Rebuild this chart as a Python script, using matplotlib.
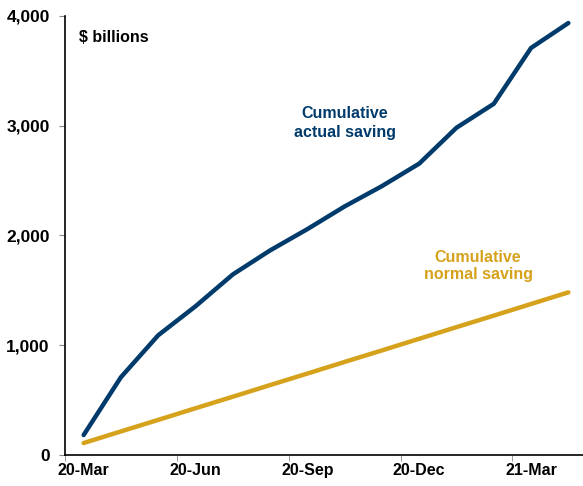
import matplotlib
matplotlib.use("Agg")
import matplotlib.pyplot as plt
from matplotlib.ticker import FuncFormatter, FixedLocator

months = ["20-Mar", "20-Apr", "20-May", "20-Jun", "20-Jul", "20-Aug", "20-Sep",
          "20-Oct", "20-Nov", "20-Dec", "21-Jan", "21-Feb", "21-Mar", "21-Apr"]
actual_saving = [182, 709, 1091, 1355, 1645, 1864, 2058, 2265, 2450, 2655,
                 2982, 3200, 3709, 3936]
normal_saving = [109, 215, 320, 426, 531, 637, 742, 848, 953, 1059,
                 1165, 1270, 1376, 1482]
tick_labels = ["20-Mar", "20-Jun", "20-Sep", "20-Dec", "21-Mar"]

BLUE = "#003B6B"
GOLD = "#D6A21C"

plt.rcParams['font.family'] = ['Liberation Sans', 'DejaVu Sans']

fig = plt.figure(figsize=(5.83, 4.86), dpi=100)
ax = fig.add_axes([65/583, 31/486, 522/583, 439/486])

x = list(range(len(months)))
ax.plot(x, normal_saving, color=GOLD, lw=3.2, solid_capstyle='round')
ax.plot(x, actual_saving, color=BLUE, lw=3.2, solid_capstyle='round')

ax.set_xlim(-0.5, len(months) - 0.5)
ax.set_ylim(0, 4000)

# ticks: labels centered on categories, tick marks at category boundaries
label_pos = [months.index(t) for t in tick_labels]
ax.set_xticks(label_pos)
ax.set_xticklabels(tick_labels, fontsize=11.5, fontweight='bold')
ax.tick_params(axis='x', length=0, pad=6)
ax.xaxis.set_minor_locator(FixedLocator([p - 0.5 for p in label_pos]))
ax.tick_params(axis='x', which='minor', length=4, direction='out', color='#888888')

ax.set_yticks([0, 1000, 2000, 3000, 4000])
ax.yaxis.set_major_formatter(FuncFormatter(lambda v, p: f"{int(v):,}"))
for lab in ax.get_yticklabels():
    lab.set_fontweight('bold')
    lab.set_fontsize(12.5)
ax.tick_params(axis='y', length=4, direction='out', color='#888888', pad=7)

for s in ['top', 'right']:
    ax.spines[s].set_visible(False)
ax.spines['left'].set_linewidth(1.2)
ax.spines['bottom'].set_linewidth(1.2)

fig.text(79/583, 1 - 37/486, "$ billions", fontsize=11.5, fontweight='bold',
         ha='left', va='center', color='black')
fig.text(345/583, 1 - 123/486, "Cumulative\nactual saving", fontsize=11.5,
         fontweight='bold', ha='center', va='center', color=BLUE, linespacing=1.25)
fig.text(478/583, 1 - 266/486, "Cumulative\nnormal saving", fontsize=11.5,
         fontweight='bold', ha='center', va='center', color=GOLD, linespacing=1.25)

fig.savefig("out.png", dpi=100)
